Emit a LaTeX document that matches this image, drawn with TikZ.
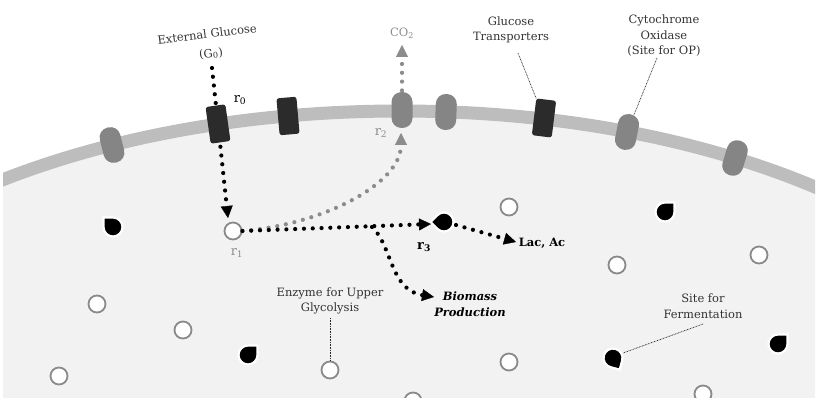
\documentclass[tikz,border=0pt]{standalone}
\usepackage{fontspec}
\setmainfont{DejaVu Serif}
\usetikzlibrary{arrows.meta}
\definecolor{cellfill}{HTML}{F2F2F2}
\definecolor{memb}{HTML}{BDBDBD}
\definecolor{prot}{HTML}{858585}
\definecolor{trans}{HTML}{2B2B2B}
\definecolor{ring}{HTML}{8A8A8A}
\definecolor{txt}{HTML}{333333}
\definecolor{flowgray}{HTML}{8C8C8C}
\tikzset{
  drop/.pic={\filldraw[fill=black, draw=white, line width=2.2pt]
    (9.5pt,0pt) arc[start angle=0, end angle=270, radius=9.5pt] -- (9.5pt,-9.5pt) -- cycle;}
}
\begin{document}
\begin{tikzpicture}[x=1pt,y=-1pt,
  capsule/.style={fill=prot, rounded corners=10pt, minimum width=21pt, minimum height=36pt, inner sep=0pt},
  transp/.style={fill=trans, rounded corners=2.5pt, minimum width=20pt, minimum height=37pt, inner sep=0pt},
  enz/.style={circle, fill=white, draw=ring, line width=1.8pt, minimum size=17pt, inner sep=0pt},
  lbl/.style={text=txt, font=\fontsize{11.5}{15.5}\selectfont, align=center, inner sep=0pt},
  rlbl/.style={font=\fontsize{13}{15}\selectfont, inner sep=0pt},
  flow/.style={line width=4.2pt, line cap=round, dash pattern=on 0pt off 8.8pt,
    -{Triangle[length=12pt,width=12pt,line width=0.4pt]}},
  lead/.style={line width=0.7pt, dash pattern=on 0.8pt off 0.8pt, black!85}
]
\useasboundingbox (0,0) rectangle (822,403);

\begin{scope}
  \clip (3,0) rectangle (815,397);
  \fill[cellfill] (400,441) ellipse [x radius=650pt, y radius=330pt];
  \draw[memb, line width=13pt] (400,441) ellipse [x radius=650pt, y radius=330pt];

  % flows passing under membrane proteins
  \coordinate (g0) at (212,68);
  \coordinate (gtip) at (228,218);
  \draw[flow] (g0) -- (gtip);
  \coordinate (c2c) at (402,108);
  \coordinate (co2tip) at (402,45);
  \draw[flow, flowgray] (c2c) -- (co2tip);

  % membrane proteins
  \node[capsule, rotate=14] (c1) at (112,145) {};
  \node[transp, rotate=8] (t0) at (218,124) {};
  \node[transp, rotate=5] (t1) at (288,116) {};
  \node[capsule] (c2) at (402,110) {};
  \node[capsule, rotate=-2] (c3) at (446,112) {};
  \node[transp, rotate=-7] (t2) at (544,118) {};
  \node[capsule, rotate=-11] (c4) at (627,132) {};
  \node[capsule, rotate=-17] (c5) at (735,158) {};

  % enzymes for upper glycolysis
  \node[enz] (e1) at (233,231) {};
  \node[enz] (e2) at (509,207) {};
  \node[enz] (e3) at (97,304) {};
  \node[enz] (e4) at (183,330) {};
  \node[enz] (e5) at (59,376) {};
  \node[enz] (e6) at (330,370) {};
  \node[enz] (e7) at (509,362) {};
  \node[enz] (e8) at (617,265) {};
  \node[enz] (e9) at (759,255) {};
  \node[enz] (e10) at (413,401) {};
  \node[enz] (e11) at (703,394) {};

  % fermentation sites
  \pic[rotate=180] (d1) at (113,227) {drop};
  \pic[rotate=90] (d2) at (248,355) {drop};
  \pic[rotate=225] (d3) at (444,222) {drop};
  \pic[rotate=90] (d4) at (665,212) {drop};
  \pic[rotate=90] (d5) at (778,344) {drop};
  \pic[rotate=-15] (d6) at (613,358) {drop};
\end{scope}

% flows from r1
\coordinate (r2tip) at (401,133);
\coordinate (r3in) at (431,224);
\coordinate (br) at (372,227);
\coordinate (bmtip) at (434,297);
\coordinate (d3out) at (456,225);
\coordinate (lactip) at (516,242);
\draw[flow, flowgray] (e1.east) .. controls (320,225) and (401,185) .. (r2tip);
\draw[flow] (e1.east) -- (r3in);
\draw[flow] (br) .. controls (392,245) and (390,290) .. (bmtip);
\draw[flow] (d3out) -- (lactip);

% labels
\node[lbl, rotate=7] (ext) at (207,34) {External Glucose};
\node[lbl, rotate=7] (g0l) at (211,54) {(G\textsubscript{0})};
\node[lbl, text=flowgray] (co2) at (402,33) {CO\textsubscript{2}};
\node[lbl] (gt) at (511,30) {Glucose\\Transporters};
\node[lbl] (cyt) at (664,36) {Cytochrome\\Oxidase\\(Site for OP)};
\node[lbl] (enzl) at (330,301) {Enzyme for Upper\\Glycolysis};
\node[lbl] (fer) at (703,306) {Site for\\Fermentation};
\node[font=\fontsize{11.5}{14}\selectfont\bfseries, inner sep=0pt] (lac) at (542,243) {Lac, Ac};
\node[font=\fontsize{11.5}{15.5}\selectfont\bfseries\itshape, align=center, inner sep=0pt] (bm) at (470,304) {Biomass\\Production};

\node[rlbl] (lr0) at (240,100) {r\textsubscript{0}};
\node[rlbl, text=flowgray] (lr1) at (237,253) {r\textsubscript{1}};
\node[rlbl, text=flowgray] (lr2) at (381,133) {r\textsubscript{2}};
\node[rlbl, font=\fontsize{13}{15}\selectfont\bfseries] (lr3) at (424,247) {r\textsubscript{3}};

% leader lines
\coordinate (gtl) at (518,53);
\coordinate (cytl) at (657,58);
\coordinate (enzt) at (330,318);
\coordinate (ferl) at (703,324);
\coordinate (ferend) at (623,353);
\draw[lead] (gtl) -- (t2);
\draw[lead] (cytl) -- (c4);
\draw[lead] (enzt) -- (e6);
\draw[lead] (ferl) -- (ferend);
\end{tikzpicture}
\end{document}
